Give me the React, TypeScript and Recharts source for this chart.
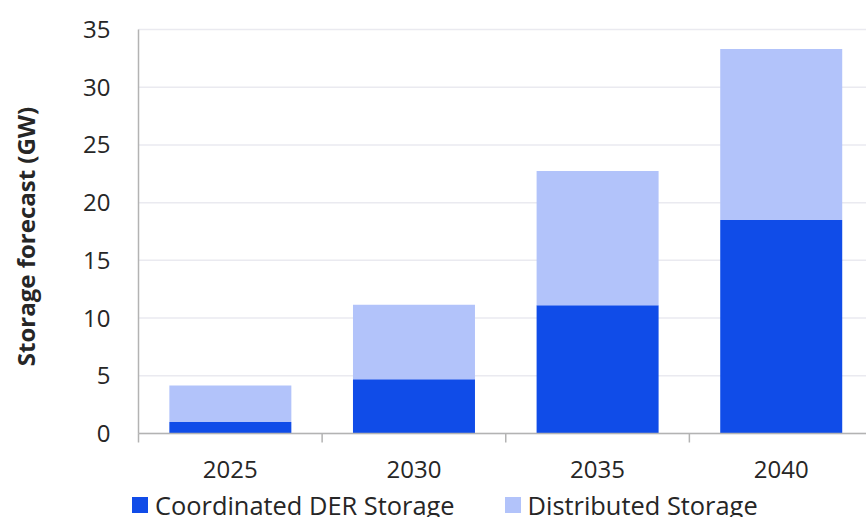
import { BarChart, Bar, XAxis, YAxis, CartesianGrid } from "recharts";

const years = ["2025", "2030", "2035", "2040"];
const coordinated = [1.0, 4.7, 11.1, 18.5];
const distributed = [3.15, 6.45, 11.65, 14.8];
const yTicks = [0, 5, 10, 15, 20, 25, 30, 35];
const edgeTicks = [0, 1, 2, 3, 4];

const seriesInfo = [
  { key: "coordinated", label: "Coordinated DER Storage", color: "#104CE8" },
  { key: "distributed", label: "Distributed Storage", color: "#B2C3FA" },
];

const data = years.map((year, i) => ({
  year,
  idx: i + 0.5,
  coordinated: coordinated[i],
  distributed: distributed[i],
}));

const FONT = "'Open Sans', sans-serif";
const TEXT = "#262626";
const AXIS = "#B3B3B3";

function AxisTitle(props: any) {
  const vb = props.viewBox || { x: 0, y: 0, width: 0, height: 0 };
  const cx = 25;
  const cy = vb.y + vb.height / 2 + 5;
  return (
    <text
      x={cx}
      y={cy}
      transform={`rotate(-90 ${cx} ${cy})`}
      textAnchor="middle"
      dominantBaseline="central"
      fontFamily={FONT}
      fontWeight={700}
      fontSize={24}
      fill={TEXT}
    >
      Storage forecast (GW)
    </text>
  );
}

export default function App() {
  return (
    <div
      style={{
        position: "absolute",
        left: 0,
        top: 0,
        width: 866,
        height: 517,
        overflow: "hidden",
        background: "#fff",
        fontFamily: FONT,
      }}
    >
      <BarChart
        width={880}
        height={517}
        data={data}
        margin={{ top: 29.5, right: 7, left: 0, bottom: 43.5 }}
        barCategoryGap="16.8%"
      >
        <CartesianGrid vertical={false} stroke="#EAEAF0" strokeWidth={1.5} />
        {/* category boundaries: tick marks between bands, like the source */}
        <XAxis
          xAxisId="a_edges"
          type="number"
          dataKey="idx"
          domain={[0, 4]}
          ticks={edgeTicks}
          interval={0}
          height={1}
          axisLine={{ stroke: AXIS, strokeWidth: 1.5 }}
          tickLine={{ stroke: AXIS, strokeWidth: 1.5 }}
          tickSize={9}
          tickFormatter={() => ""}
        />
        <XAxis
          xAxisId="b_cat"
          dataKey="year"
          height={39}
          axisLine={false}
          tickLine={false}
          tickSize={0}
          tickMargin={26}
          tick={{ fill: TEXT, fontSize: 24, fontFamily: FONT }}
        />
        <YAxis
          width={138.5}
          domain={[0, 35]}
          ticks={yTicks}
          interval={0}
          axisLine={{ stroke: AXIS, strokeWidth: 1.5 }}
          tickLine={false}
          tickSize={0}
          tickMargin={28}
          tick={{ fill: TEXT, fontSize: 24, fontFamily: FONT }}
          label={<AxisTitle />}
        />
        {seriesInfo.map((s) => (
          <Bar
            key={s.key}
            xAxisId="b_cat"
            dataKey={s.key}
            name={s.label}
            stackId="a"
            fill={s.color}
            isAnimationActive={false}
          />
        ))}
      </BarChart>
      <div
        style={{
          position: "absolute",
          top: 491,
          left: 132,
          display: "flex",
          alignItems: "center",
          fontSize: 25.4,
          color: TEXT,
          whiteSpace: "nowrap",
        }}
      >
        {seriesInfo.map((s, i) => (
          <div
            key={s.key}
            style={{ display: "flex", alignItems: "center", marginLeft: i === 0 ? 0 : 50 }}
          >
            <span style={{ width: 16, height: 16, background: s.color, marginRight: 7, display: "inline-block" }} />
            <span style={{ lineHeight: "28px" }}>{s.label}</span>
          </div>
        ))}
      </div>
    </div>
  );
}
